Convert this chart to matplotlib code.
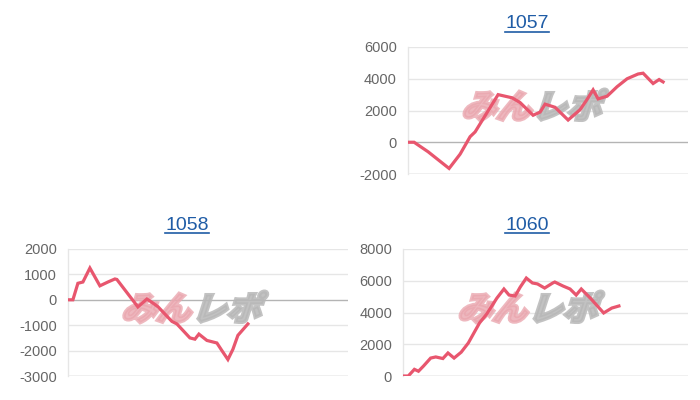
import matplotlib
matplotlib.use("Agg")
import matplotlib.pyplot as plt
from matplotlib.textpath import TextPath
from matplotlib.patches import PathPatch
from matplotlib.font_manager import FontProperties
import matplotlib.transforms as mtransforms
from matplotlib.lines import Line2D

plt.rcParams['font.family'] = ['Liberation Sans', 'DejaVu Sans']

# ---- data ----
titles = ["1057", "1058", "1060"]

games_1057 = [0, 6, 20, 30, 41, 52, 62, 67, 90, 104, 112, 125, 132, 137, 147, 160,
              172, 179, 185, 190, 199, 209, 219, 230, 235, 245, 251, 255]
diff_1057 = [0, 0, -600, -1100, -1650, -750, 350, 650, 3000, 2800, 2500, 1700, 1900,
             2400, 2200, 1400, 2050, 2700, 3300, 2730, 2900, 3500, 4000, 4300, 4350,
             3700, 3950, 3800]

games_1058 = [0, 5, 10, 15, 22, 32, 40, 47, 49, 70, 79, 84, 90, 104, 109, 122, 127,
              131, 139, 149, 154, 160, 165, 170, 180]
diff_1058 = [0, 0, 650, 700, 1250, 550, 700, 820, 800, -280, 30, -100, -270, -850,
             -950, -1500, -1550, -1350, -1600, -1700, -2000, -2350, -1950, -1400, -950]

games_1060 = [0, 5, 11, 15, 20, 27, 32, 39, 44, 50, 57, 64, 70, 75, 82, 92, 99, 104,
              110, 115, 121, 127, 132, 139, 147, 149, 157, 164, 170, 175, 184, 197,
              205, 212]
diff_1060 = [0, 0, 420, 300, 630, 1130, 1200, 1100, 1450, 1130, 1500, 2080, 2770,
             3340, 3900, 4900, 5480, 5100, 5040, 5600, 6170, 5860, 5800, 5540, 5860,
             5920, 5670, 5480, 5100, 5480, 4900, 3970, 4280, 4410]

yticks_1057 = [-2000, 0, 2000, 4000, 6000]
yticks_1058 = [-3000, -2000, -1000, 0, 1000, 2000]
yticks_1060 = [0, 2000, 4000, 6000, 8000]

# ---- style ----
LINE_C = "#e8566e"
GRID_C = "#e6e6e6"
ZERO_C = "#b4b4b4"
TICK_C = "#666666"
TITLE_C = "#1f5ca6"

fig = plt.figure(figsize=(7, 4), dpi=100)

panels = [
    ([0.583, 0.565, 0.400, 0.3175], games_1057, diff_1057, yticks_1057, (527, 24)),
    ([0.097, 0.060, 0.400, 0.3175], games_1058, diff_1058, yticks_1058, (187, 226)),
    ([0.576, 0.060, 0.407, 0.3175], games_1060, diff_1060, yticks_1060, (527, 226)),
]

wm_font = FontProperties(family="Noto Sans CJK JP", weight="heavy")


def watermark(ax):
    p1 = TextPath((0, 0), "みん", size=33, prop=wm_font)
    p2 = TextPath((0, 0), "レポ", size=33, prop=wm_font)
    w1 = p1.get_extents().x1
    off = mtransforms.ScaledTranslation(0.19, 0.44, ax.transAxes)
    tr1 = mtransforms.Affine2D().scale(1.05, 1.0).skew_deg(18, 0) + off
    tr2 = mtransforms.Affine2D().translate(w1 + 2, 0).scale(1.05, 1.0).skew_deg(18, 0) + off
    ax.add_patch(PathPatch(p1, transform=tr1, facecolor="#eaa7af", edgecolor="#eaa7af",
                           lw=2.5, alpha=0.8, zorder=1.5, clip_on=False))
    ax.add_patch(PathPatch(p2, transform=tr2, facecolor="#b8b8b8", edgecolor="#b8b8b8",
                           lw=2.5, alpha=0.85, zorder=1.5, clip_on=False))


for rect, games, diff, yticks, tpos in panels:
    ax = fig.add_axes(rect)
    ax.set_xlim(0, 280)
    ax.set_ylim(yticks[0], yticks[-1])
    ax.set_yticks(yticks)
    ax.set_yticklabels([str(t) for t in yticks])
    ax.set_xticks([])
    ax.tick_params(axis='y', length=0, pad=8, labelsize=10.5, labelcolor=TICK_C)
    for s in ["top", "right", "bottom"]:
        ax.spines[s].set_visible(False)
    ax.spines["left"].set_color(GRID_C)
    ax.spines["left"].set_linewidth(1)
    for t in yticks:
        c = ZERO_C if (t == 0 or t == yticks[0]) else GRID_C
        ax.axhline(t, color=c, lw=1, zorder=1)
    watermark(ax)
    ax.plot(games, diff, color=LINE_C, lw=2.3, zorder=3, solid_joinstyle="miter")

# titles with underline
fig.canvas.draw()
renderer = fig.canvas.get_renderer()
for title, (rect, games, diff, yticks, tpos) in zip(titles, panels):
    t = fig.text(tpos[0] / 700, 1 - tpos[1] / 400, title, ha="center", va="center",
                 fontsize=14, color=TITLE_C)
    bb = t.get_window_extent(renderer=renderer)
    y_ul = (bb.y0 + 1) / 400
    fig.add_artist(Line2D([bb.x0 / 700, bb.x1 / 700], [y_ul, y_ul], color=TITLE_C,
                          lw=1.2, transform=fig.transFigure))

fig.savefig("out.png", dpi=100)
